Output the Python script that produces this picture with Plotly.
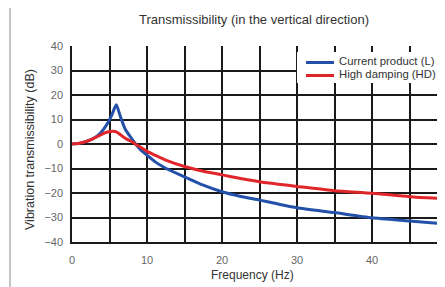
import plotly.graph_objects as go

# Data
freq_L = [0, 1, 2, 2.7, 3.5, 4.2, 4.8, 5.33, 5.9, 6.44, 7.1, 8.0, 8.67, 9.2, 10, 11.1, 12.5,
          15, 17.5, 20, 22.5, 25, 27.5, 30, 35, 40, 45, 50]
db_L = [0, 0.3, 1.2, 2.0, 3.6, 6.0, 8.8, 12.0, 16.0, 11.3, 6.0, 2.0, -0.7, -2.5, -4.5, -7.3, -9.9,
        -13.4, -16.8, -19.5, -21.4, -22.9, -24.5, -26.0, -28.0, -30.1, -31.4, -32.7]

freq_HD = [0, 1, 1.8, 2.7, 3.56, 4.3, 4.9, 5.5, 6.0, 6.67, 7.3, 8.0, 8.9, 10, 11.1, 12.5,
           15, 17.5, 20, 22.5, 25, 27.5, 30, 35, 40, 45, 50]
db_HD = [0, 0.3, 0.9, 2.0, 3.3, 4.4, 5.0, 5.2, 4.8, 3.3, 2.0, 0.9, -0.9, -3.0, -4.6, -6.6,
         -9.2, -11.1, -12.6, -14.1, -15.4, -16.4, -17.3, -19.1, -20.1, -21.5, -22.4]

series_names = ["Current product (L)", "High damping (HD)"]
series_colors = ["#2350a8", "#e0262a"]

x_grid_vals = [0, 5, 10, 15, 20, 25, 30, 35, 40, 45]
x_tick_text = ["0", "", "10", "", "20", "", "30", "", "40", ""]
y_tick_vals = [-40, -30, -20, -10, 0, 10, 20, 30, 40]

title_text = "Transmissibility (in the vertical direction)"
x_title = "Frequency (Hz)"
y_title = "Vibration transmissibility (dB)"

FONT = "Liberation Sans, Arial, Helvetica, sans-serif"

OFF = 8  # default page body margin
W, H = 445 - OFF, 287 - OFF
ML, MR, MT, MB = 72 - OFF, 0, 46 - OFF, 287 - 242
plot_w = W - ML - MR
plot_h = H - MT - MB
px_per_hz = 7.5
x_max = plot_w / px_per_hz


def px_to_paper_x(px):
    # px: screen pixel
    return (px - OFF - ML) / plot_w


def px_to_paper_y(py):
    return (H - MB - (py - OFF)) / plot_h


fig = go.Figure()
fig.add_trace(go.Scatter(x=freq_L, y=db_L, mode="lines", name=series_names[0], showlegend=False,
                         line=dict(color=series_colors[0], width=3, shape="spline", smoothing=0.6)))
fig.add_trace(go.Scatter(x=freq_HD, y=db_HD, mode="lines", name=series_names[1], showlegend=False,
                         line=dict(color=series_colors[1], width=3, shape="spline", smoothing=0.6)))

fig.update_layout(
    width=W, height=H,
    margin=dict(l=ML, r=MR, t=MT, b=MB, pad=0),
    paper_bgcolor="white", plot_bgcolor="white",
    font=dict(family=FONT, size=11, color="#555555"),
    showlegend=False,
    xaxis=dict(range=[0, x_max], tickmode="array", tickvals=x_grid_vals, ticktext=x_tick_text,
               showgrid=True, gridcolor="#1a1a1a", gridwidth=1.5, zeroline=False,
               showline=True, linecolor="#1a1a1a", linewidth=1.5,
               ticks="", ticklabelstandoff=7,
               tickfont=dict(family=FONT, size=11, color="#666666")),
    yaxis=dict(range=[-40, 40], tickmode="array", tickvals=y_tick_vals,
               showgrid=True, gridcolor="#1a1a1a", gridwidth=1.5, zeroline=False,
               showline=True, linecolor="#1a1a1a", linewidth=1.5,
               ticks="", ticklabelstandoff=5,
               tickfont=dict(family=FONT, size=11, color="#666666")),
)

annotations = [
    dict(text=title_text, xref="paper", yref="paper", x=px_to_paper_x(254), y=px_to_paper_y(20),
         showarrow=False, xanchor="center", yanchor="middle",
         font=dict(family=FONT, size=13, color="#333333")),
    dict(text=x_title, xref="paper", yref="paper", x=px_to_paper_x(252), y=px_to_paper_y(275),
         showarrow=False, xanchor="center", yanchor="middle",
         font=dict(family=FONT, size=12, color="#333333")),
    dict(text=y_title, xref="paper", yref="paper", x=px_to_paper_x(30), y=px_to_paper_y(150),
         showarrow=False, xanchor="center", yanchor="middle", textangle=-90,
         font=dict(family=FONT, size=12.5, color="#333333")),
    dict(text="50", xref="paper", yref="paper", x=px_to_paper_x(443), y=px_to_paper_y(256),
         showarrow=False, xanchor="center", yanchor="middle",
         font=dict(family=FONT, size=11, color="#666666")),
]

# Custom legend (white box covering the grid, line samples and labels)
shapes = [
    dict(type="rect", xref="paper", yref="paper",
         x0=px_to_paper_x(10), x1=px_to_paper_x(600),
         y0=px_to_paper_y(400), y1=px_to_paper_y(6),
         line=dict(color="#888888", width=1), fillcolor="rgba(0,0,0,0)", layer="below"),
    dict(type="rect", xref="paper", yref="paper",
         x0=px_to_paper_x(297), x1=px_to_paper_x(441),
         y0=px_to_paper_y(83), y1=px_to_paper_y(52),
         line=dict(width=0), fillcolor="white", layer="above"),
]
legend_rows_y = [62.5, 75.5]
for name, color, ry in zip(series_names, series_colors, legend_rows_y):
    shapes.append(dict(type="line", xref="paper", yref="paper",
                       x0=px_to_paper_x(306), x1=px_to_paper_x(334),
                       y0=px_to_paper_y(ry), y1=px_to_paper_y(ry),
                       line=dict(color=color, width=3), layer="above"))
    annotations.append(dict(text=name, xref="paper", yref="paper",
                            x=px_to_paper_x(339), y=px_to_paper_y(ry - 1.5),
                            showarrow=False, xanchor="left", yanchor="middle",
                            borderpad=0, borderwidth=0,
                            font=dict(family=FONT, size=11.3, color="#333333")))

fig.update_layout(annotations=annotations, shapes=shapes)

fig.write_html("out.html")
